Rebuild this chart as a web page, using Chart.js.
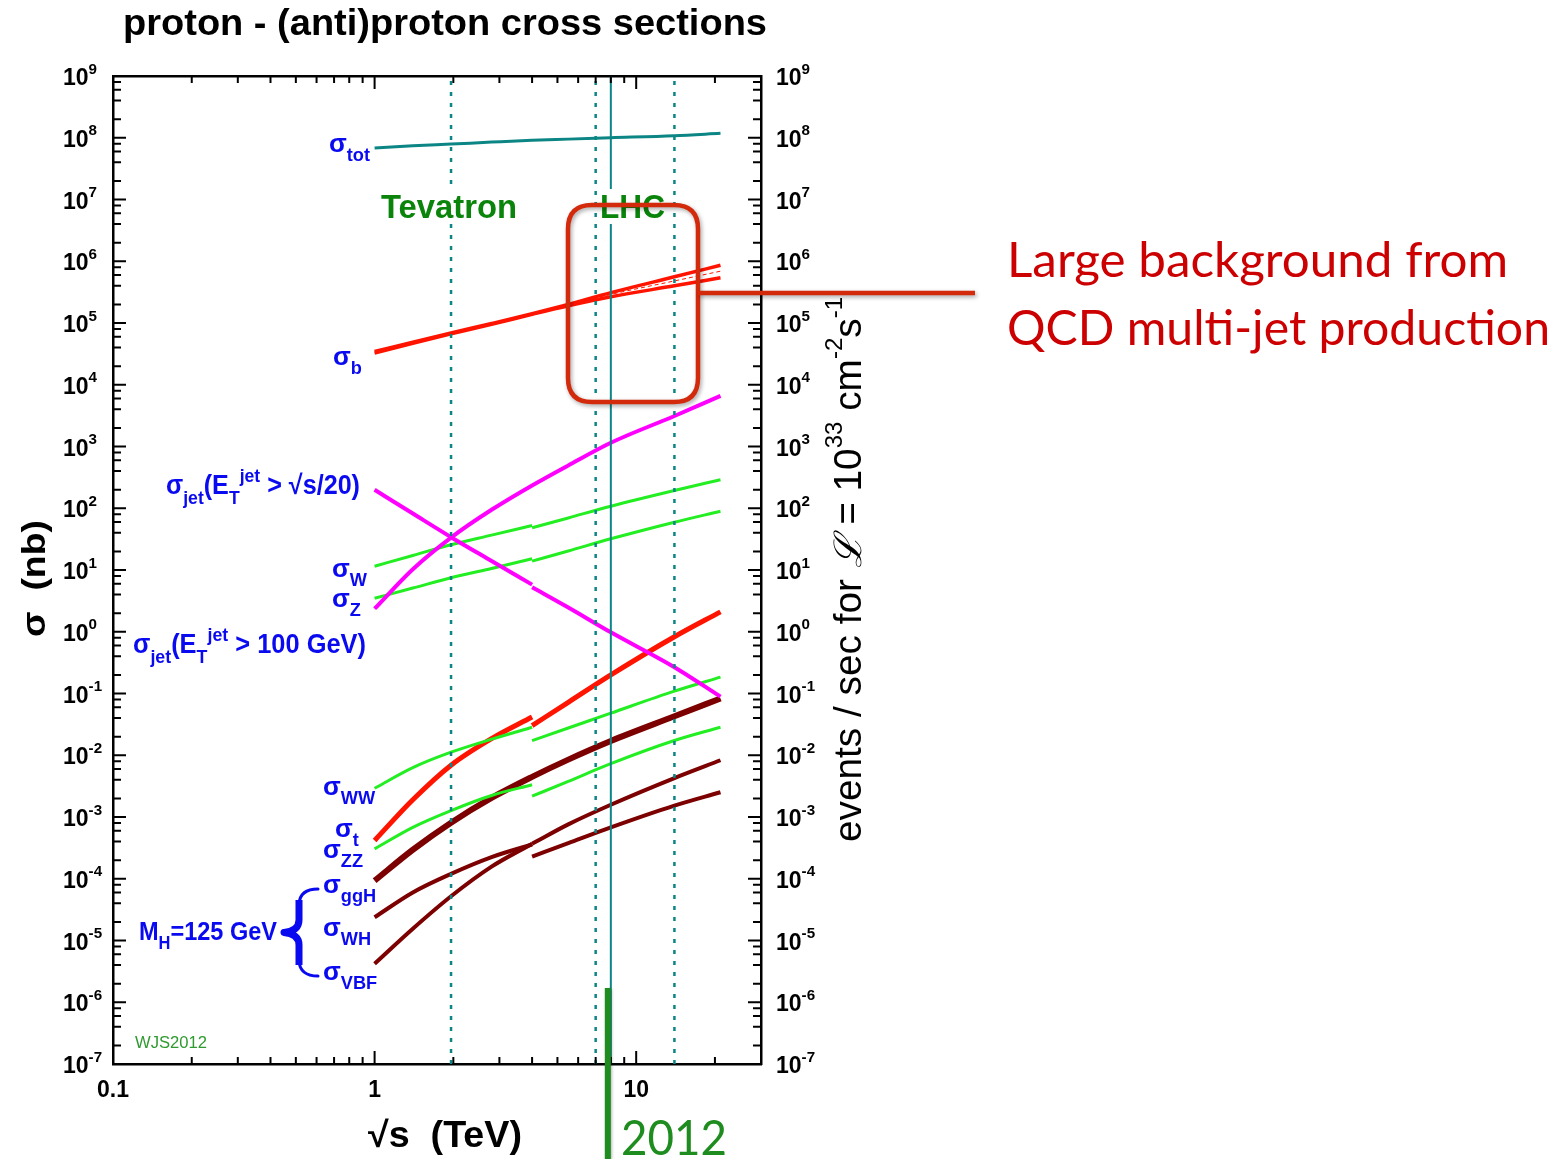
<!DOCTYPE html>
<html>
<head>
<meta charset="utf-8">
<script src="https://cdn.jsdelivr.net/npm/chart.js@4.4.1/dist/chart.umd.min.js"></script>
<style>
html,body{margin:0;padding:0;background:#fff;}
#wrap{position:relative;width:1557px;height:1159px;}
</style>
</head>
<body>
<div id="wrap"><canvas id="chart"></canvas></div>
<script>
// ---------------- data (sqrt(s) in TeV, sigma in nb) ----------------
const xTev = [1, 1.4, 1.96, 2.8, 4];          // p-pbar branch
const xLhc = [4, 5.5, 8, 14, 21];             // p-p branch
const xAll = [1, 1.4, 1.96, 2.8, 4, 5.5, 8, 14, 21];

const sigTot       = [6.8e7, 7.4e7, 7.9e7, 8.5e7, 9.1e7, 9.5e7, 1.0e8, 1.08e8, 1.18e8];
const sigBUpper    = [3.45e4, 4.9e4, 6.9e4, 9.8e4, 1.41e5, 2.0e5, 3.1e5, 5.6e5, 8.6e5];
const sigBLower    = [3.25e4, 4.7e4, 6.7e4, 9.5e4, 1.38e5, 1.9e5, 2.66e5, 4.0e5, 5.4e5];
const sigBMid      = [1.39e5, 1.95e5, 2.9e5, 4.8e5, 6.9e5];
const sigJet100    = [2.36, 10.3, 33.5, 94.4, 234, 494, 1150, 3120, 6600];
const sigJetS20Tev = [199, 82, 34, 14, 5.8];
const sigJetS20Lhc = [5.25, 2.47, 0.98, 0.267, 0.089];
const sigWTev      = [11.5, 17.2, 25.6, 36.7, 52.6];
const sigWLhc      = [48.2, 69.7, 108, 194, 289];
const sigZTev      = [3.49, 5.1, 7.48, 10.6, 15.2];
const sigZLhc      = [13.9, 20.3, 32, 59.4, 89.5];
const sigWWTev     = [2.92e-3, 6.3e-3, 1.12e-2, 1.82e-2, 2.84e-2];
const sigWWLhc     = [1.73e-2, 2.76e-2, 4.8e-2, 0.109, 0.184];
const sigZZTev     = [3.05e-4, 6.8e-4, 1.27e-3, 2.23e-3, 3.33e-3];
const sigZZLhc     = [2.17e-3, 3.78e-3, 7.3e-3, 1.73e-2, 2.84e-2];
const sigTopTev    = [4.17e-4, 1.9e-3, 6.9e-3, 1.86e-2, 4.17e-2];
const sigTopLhc    = [3.02e-2, 7.2e-2, 0.2, 0.83, 2.1];
const sigGgH       = [9.3e-5, 2.95e-4, 8.1e-4, 2.04e-3, 4.47e-3, 8.5e-3, 1.7e-2, 4.27e-2, 8.3e-2];
const sigWHTev     = [2.38e-5, 6.0e-5, 1.2e-4, 2.24e-4, 3.59e-4];
const sigWHLhc     = [2.29e-4, 3.78e-4, 6.8e-4, 1.53e-3, 2.52e-3];
const sigVBFTev    = [4.2e-6, 1.55e-5, 5.2e-5, 1.57e-4, 3.69e-4];
const sigVBFLhc    = [3.68e-4, 7.6e-4, 1.58e-3, 4.27e-3, 8.3e-3];

const energyTevatron = 1.96;
const energyLhcDotted = [7, 14];
const energy2012 = 8;
const xRange = [0.1, 30];
const yRange = [1e-7, 1e9];
const xTickLabels = [0.1, 1, 10];
const xMinorMult = [2, 3, 4, 5, 6, 7, 8, 9];
const yExponents = [-7, -6, -5, -4, -3, -2, -1, 0, 1, 2, 3, 4, 5, 6, 7, 8, 9];
const yMinorMult = [2, 4, 6, 8];

// ---------------- styles ----------------
const TEAL = '#0c8585', MAG = '#ff00ff', GRN = '#22ee22', RED = '#ff1400', DRED = '#7d0000';
const BLUE = '#0a0af0', DKGRN = '#0a840a';
const SANS = '"Liberation Sans", Arial, sans-serif';

function pts(xs, ys) { return xs.map((v, i) => ({x: v, y: ys[i]})); }
function line(xs, ys, color, w, extra) {
  return Object.assign({data: pts(xs, ys), borderColor: color, borderWidth: w, pointRadius: 0,
    fill: false, cubicInterpolationMode: 'monotone'}, extra || {});
}
const vLine = (e, dash, w) => ({data: [{x: e, y: yRange[0]}, {x: e, y: yRange[1]}], borderColor: TEAL,
  borderWidth: w, borderDash: dash, pointRadius: 0, fill: false});

const datasets = [
  vLine(energy2012, [], 2),
  vLine(energyTevatron, [4, 7], 2.5),
  vLine(energyLhcDotted[0], [4, 7], 2.5),
  vLine(energyLhcDotted[1], [4, 7], 2.5),
  line(xAll, sigTot, TEAL, 3),
  line(xLhc, sigBMid, RED, 1, {borderDash: [4, 3]}),
  line(xAll, sigBUpper, RED, 3.5),
  line(xAll, sigBLower, RED, 3.5),
  line(xAll, sigJet100, MAG, 4),
  line(xTev, sigJetS20Tev, MAG, 4),
  line(xLhc, sigJetS20Lhc, MAG, 4),
  line(xTev, sigWTev, GRN, 3),
  line(xLhc, sigWLhc, GRN, 3),
  line(xTev, sigZTev, GRN, 3),
  line(xLhc, sigZLhc, GRN, 3),
  line(xTev, sigWWTev, GRN, 3),
  line(xLhc, sigWWLhc, GRN, 3),
  line(xTev, sigZZTev, GRN, 3),
  line(xLhc, sigZZLhc, GRN, 3),
  line(xTev, sigTopTev, RED, 5),
  line(xLhc, sigTopLhc, RED, 5),
  line(xAll, sigGgH, DRED, 6),
  line(xTev, sigWHTev, DRED, 4),
  line(xLhc, sigWHLhc, DRED, 4),
  line(xTev, sigVBFTev, DRED, 4),
  line(xLhc, sigVBFLhc, DRED, 4)
];

// ---------------- rich text helpers ----------------
function layoutRuns(ctx, o) {
  const fam = o.fam || SANS, wt = o.weight || 'bold', size = o.size;
  const sbS = o.subS || 0.7, sbD = o.subD || 0.36, spS = o.supS || 0.7, spD = o.supD || -0.45;
  let w = 0; const items = [];
  for (const [t, k] of o.runs) {
    let s = size, dy = 0, st = wt, f = fam;
    if (k === 'b') { s = size * sbS; dy = size * sbD; }
    else if (k === 'p') { s = size * spS; dy = size * spD; }
    else if (k === 'i') { st = 'italic ' + wt; f = '"DejaVu Serif", serif'; }
    const font = `${st} ${s}px ${f}`;
    ctx.font = font;
    const m = ctx.measureText(t).width;
    items.push({t, font, dx: w, dy});
    w += m;
  }
  return {items, w};
}
function drawRich(ctx, o) {
  const L = layoutRuns(ctx, o);
  const sx = o.w ? o.w / L.w : 1;
  ctx.save();
  ctx.translate(o.x, o.y);
  if (o.rot) ctx.rotate(o.rot);
  ctx.scale(sx, 1);
  ctx.fillStyle = o.color || '#000';
  ctx.textAlign = 'left'; ctx.textBaseline = 'alphabetic';
  for (const it of L.items) { ctx.font = it.font; ctx.fillText(it.t, it.dx, it.dy); }
  ctx.restore();
  return L.w * sx;
}
function textBox(ctx, t, font) {
  ctx.font = font;
  const m = ctx.measureText(t);
  return {w: m.width, asc: m.actualBoundingBoxAscent, desc: m.actualBoundingBoxDescent};
}

const sigmaLabels = [
  {x: 329, y: 152, size: 26, runs: [['σ', 'n'], ['tot', 'b']]},
  {x: 333, y: 365, size: 26, runs: [['σ', 'n'], ['b', 'b']]},
  {x: 166, y: 494, size: 27, w: 194, runs: [['σ', 'n'], ['jet', 'b'], ['(E', 'n'], ['T', 'b'], ['jet', 'p'], [' > √s/20)', 'n']]},
  {x: 332, y: 577, size: 26, runs: [['σ', 'n'], ['W', 'b']]},
  {x: 332, y: 607, size: 26, runs: [['σ', 'n'], ['Z', 'b']]},
  {x: 133, y: 653, size: 27, w: 233, runs: [['σ', 'n'], ['jet', 'b'], ['(E', 'n'], ['T', 'b'], ['jet', 'p'], [' > 100 GeV)', 'n']]},
  {x: 323, y: 795, size: 26, runs: [['σ', 'n'], ['WW', 'b']]},
  {x: 335, y: 837, size: 26, runs: [['σ', 'n'], ['t', 'b']]},
  {x: 323, y: 858, size: 26, runs: [['σ', 'n'], ['ZZ', 'b']]},
  {x: 323, y: 893, size: 26, runs: [['σ', 'n'], ['ggH', 'b']]},
  {x: 323, y: 936, size: 26, runs: [['σ', 'n'], ['WH', 'b']]},
  {x: 323, y: 980, size: 26, runs: [['σ', 'n'], ['VBF', 'b']]},
  {x: 139, y: 940, size: 26, w: 138, runs: [['M', 'n'], ['H', 'b'], ['=125 GeV', 'n']]}
];

const decor = {
  id: 'decor',
  afterDatasetsDraw(chart) {
    const {ctx, chartArea: a, scales} = chart;
    const xs = scales.x, ys = scales.y;
    ctx.save();

    // white boxes behind collider names + names
    const fT = `bold 33px ${SANS}`;
    [['Tevatron', 381, 218, 136], ['LHC', 600, 218, 65]].forEach(([t, x, y, w]) => {
      const b = textBox(ctx, t, fT);
      const sx = w / b.w;
      ctx.fillStyle = '#fff';
      ctx.fillRect(x - 2, y - b.asc - 6, w + 4, b.asc + b.desc + 12);
      ctx.save(); ctx.translate(x, y); ctx.scale(sx, 1);
      ctx.fillStyle = DKGRN; ctx.font = fT; ctx.textAlign = 'left'; ctx.fillText(t, 0, 0);
      ctx.restore();
    });

    // tick marks (inward)
    ctx.strokeStyle = '#000'; ctx.lineWidth = 2;
    ctx.beginPath();
    xTickLabels.forEach(d => {
      const list = [[d, 13]].concat(xMinorMult.map(m => [d * m, 7]));
      list.forEach(([v, len]) => {
        if (v <= xRange[0] * 1.0001 || v >= xRange[1] * 0.999) return;
        const px = xs.getPixelForValue(v);
        ctx.moveTo(px, a.bottom); ctx.lineTo(px, a.bottom - len);
        ctx.moveTo(px, a.top); ctx.lineTo(px, a.top + len);
      });
    });
    yExponents.forEach(e => {
      const list = [[Math.pow(10, e), 13]];
      if (e < 9) yMinorMult.forEach(m => list.push([m * Math.pow(10, e), 8]));
      list.forEach(([v, len]) => {
        const py = ys.getPixelForValue(v);
        ctx.moveTo(a.left, py); ctx.lineTo(a.left + len, py);
        ctx.moveTo(a.right, py); ctx.lineTo(a.right - len, py);
      });
    });
    ctx.stroke();

    // tick labels
    yExponents.forEach(e => {
      const py = ys.getPixelForValue(Math.pow(10, e));
      const runs = [['10', 'n'], [String(e), 'p']];
      drawRich(ctx, {x: 63, y: py + 9, size: 23, runs, supS: 0.66, supD: -0.5, color: '#000'});
      drawRich(ctx, {x: 776, y: py + 9, size: 23, runs, supS: 0.66, supD: -0.5, color: '#000'});
    });
    ctx.fillStyle = '#000'; ctx.font = `bold 23px ${SANS}`; ctx.textAlign = 'center';
    xTickLabels.forEach(v => ctx.fillText(String(v), xs.getPixelForValue(v), 1097));

    // axis titles
    drawRich(ctx, {x: 45, y: 637, rot: -Math.PI / 2, size: 33, w: 117, runs: [['σ  (nb)', 'n']], color: '#000'});
    drawRich(ctx, {x: 368, y: 1147, size: 36, w: 154, runs: [['√s  (TeV)', 'n']], color: '#000'});
    drawRich(ctx, {x: 861, y: 842, rot: -Math.PI / 2, size: 38, weight: 'normal', w: 545,
      runs: [['events / sec for ', 'n'], ['ℒ', 'i'], [' = 10', 'n'], ['33', 'p'], [' cm', 'n'], ['-2', 'p'], ['s', 'n'], ['-1', 'p']],
      supS: 0.62, supD: -0.5, color: '#000'});

    // title
    drawRich(ctx, {x: 123, y: 35, size: 37, w: 644, runs: [['proton - (anti)proton cross sections', 'n']], color: '#000'});

    // sigma labels
    sigmaLabels.forEach(l => drawRich(ctx, Object.assign({color: BLUE}, l)));

    // brace
    ctx.save();
    ctx.strokeStyle = BLUE; ctx.lineCap = 'round'; ctx.lineJoin = 'round';
    ctx.lineWidth = 3;
    ctx.beginPath();
    ctx.moveTo(318, 889); ctx.quadraticCurveTo(300, 889, 299, 904);
    ctx.moveTo(299, 961); ctx.quadraticCurveTo(300, 976, 318, 976);
    ctx.stroke();
    ctx.lineWidth = 7; ctx.lineCap = 'butt';
    ctx.beginPath();
    ctx.moveTo(299, 900); ctx.lineTo(299, 920); ctx.quadraticCurveTo(299, 931, 284, 932.5);
    ctx.quadraticCurveTo(299, 934, 299, 945); ctx.lineTo(299, 965);
    ctx.stroke();
    ctx.restore();

    // signature
    drawRich(ctx, {x: 135, y: 1048, size: 16, weight: 'normal', w: 72, runs: [['WJS2012', 'n']], color: '#2f9a2f'});

    // red annotation box + line
    ctx.save();
    ctx.shadowColor = 'rgba(0,0,0,0.35)'; ctx.shadowBlur = 4; ctx.shadowOffsetX = 1.5; ctx.shadowOffsetY = 2;
    ctx.strokeStyle = '#d42a0c'; ctx.lineWidth = 4.5;
    const rx = 568, ry = 205, rw = 130, rh = 197, rr = 24;
    ctx.beginPath();
    ctx.moveTo(rx + rr, ry); ctx.lineTo(rx + rw - rr, ry); ctx.quadraticCurveTo(rx + rw, ry, rx + rw, ry + rr);
    ctx.lineTo(rx + rw, ry + rh - rr); ctx.quadraticCurveTo(rx + rw, ry + rh, rx + rw - rr, ry + rh);
    ctx.lineTo(rx + rr, ry + rh); ctx.quadraticCurveTo(rx, ry + rh, rx, ry + rh - rr);
    ctx.lineTo(rx, ry + rr); ctx.quadraticCurveTo(rx, ry, rx + rr, ry);
    ctx.closePath(); ctx.stroke();
    ctx.beginPath(); ctx.moveTo(rx + rw, 293); ctx.lineTo(975, 293); ctx.stroke();
    ctx.restore();

    drawRich(ctx, {x: 1007, y: 277, size: 48, weight: 'normal', fam: 'Lato, "Open Sans", sans-serif', w: 501,
      runs: [['Large background from', 'n']], color: '#cc0000'});
    drawRich(ctx, {x: 1007, y: 345, size: 48, weight: 'normal', fam: 'Lato, "Open Sans", sans-serif', w: 543,
      runs: [['QCD multi-jet production', 'n']], color: '#cc0000'});

    // 2012 marker
    const gx = xs.getPixelForValue(energy2012) - 3;
    ctx.save();
    ctx.shadowColor = 'rgba(0,0,0,0.3)'; ctx.shadowBlur = 3; ctx.shadowOffsetX = 1; ctx.shadowOffsetY = 1;
    ctx.fillStyle = '#1e8c1e';
    ctx.fillRect(gx - 3, 988, 6, 1159 - 988);
    ctx.restore();
    drawRich(ctx, {x: 621, y: 1155, size: 48, weight: 'normal', fam: 'Lato, "Open Sans", sans-serif', w: 106,
      runs: [['2012', 'n']], color: '#1e8c1e'});

    ctx.restore();
  }
};

const axisCommon = {
  type: 'logarithmic',
  grid: {display: false, drawTicks: false},
  ticks: {display: false},
  border: {display: true, color: '#000', width: 2.5}
};

new Chart(document.getElementById('chart'), {
  type: 'line',
  data: {datasets},
  options: {
    responsive: true, maintainAspectRatio: false, animation: false, events: [],
    layout: {padding: {left: 113, top: 76, right: 1557 - 761, bottom: 1159 - 1064}},
    plugins: {legend: {display: false}, tooltip: {enabled: false}},
    scales: {
      x: Object.assign({}, axisCommon, {position: 'bottom', min: xRange[0], max: xRange[1]}),
      x2: Object.assign({}, axisCommon, {position: 'top', min: xRange[0], max: xRange[1]}),
      y: Object.assign({}, axisCommon, {position: 'left', min: yRange[0], max: yRange[1]}),
      y2: Object.assign({}, axisCommon, {position: 'right', min: yRange[0], max: yRange[1]})
    }
  },
  plugins: [decor]
});
</script>
</body>
</html>
